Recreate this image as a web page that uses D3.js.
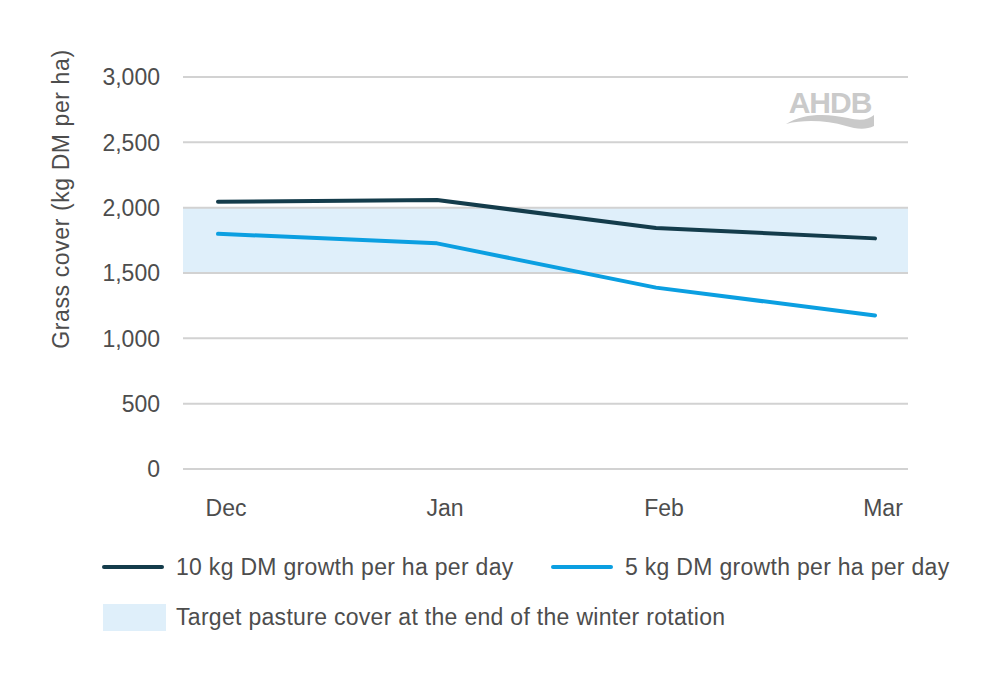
<!DOCTYPE html>
<html>
<head>
<meta charset="utf-8">
<script src="https://cdn.jsdelivr.net/npm/d3@7"></script>
<style>
  body { margin: 0; background: #fff; }
  svg text { font-family: "Liberation Sans", Arial, sans-serif; fill: #4d4d4d; }
</style>
</head>
<body>
<svg width="1000" height="688"></svg>
<script>
const months = ["Dec", "Jan", "Feb", "Mar"];
const growth10 = [2045, 2058, 1845, 1765];
const growth5 = [1800, 1727, 1388, 1175];
const yTicks = [0, 500, 1000, 1500, 2000, 2500, 3000];
const targetBand = [1500, 2000];
const seriesNames = ["10 kg DM growth per ha per day", "5 kg DM growth per ha per day"];
const bandName = "Target pasture cover at the end of the winter rotation";

const colors = ["#143c4b", "#0b9fe1"];
const bandColor = "#dfeffa";

const svg = d3.select("svg");
const left = 183, right = 908;

const x = d3.scalePoint().domain(months).range([218, 875]);
const y = d3.scaleLinear().domain([0, 3000]).range([469, 77]);

// target band
svg.append("rect")
    .attr("x", left)
    .attr("width", right - left)
    .attr("y", y(targetBand[1]))
    .attr("height", y(targetBand[0]) - y(targetBand[1]))
    .attr("fill", bandColor);

// gridlines + tick labels
const grid = svg.append("g");
grid.selectAll("line").data(yTicks).enter().append("line")
    .attr("x1", left).attr("x2", right)
    .attr("y1", d => y(d)).attr("y2", d => y(d))
    .attr("stroke", "#d2d2d2")
    .attr("stroke-width", 2);
grid.selectAll("text").data(yTicks).enter().append("text")
    .attr("x", 160)
    .attr("y", d => y(d))
    .attr("dy", "0.36em")
    .attr("text-anchor", "end")
    .style("font-size", "23px")
    .text(d => d3.format(",")(d));

// month labels
svg.append("g").selectAll("text").data(months).enter().append("text")
    .attr("x", d => x(d) + 8)
    .attr("y", 516)
    .attr("text-anchor", "middle")
    .style("font-size", "23px")
    .text(d => d);

// y title
svg.append("text")
    .attr("transform", "translate(69,199) rotate(-90)")
    .attr("text-anchor", "middle")
    .style("font-size", "23px")
    .style("letter-spacing", "0.6px")
    .text("Grass cover (kg DM per ha)");

// lines
const line = d3.line()
    .x((d, i) => x(months[i]))
    .y(d => y(d));

[growth10, growth5].forEach((s, i) => {
    svg.append("path")
        .datum(s)
        .attr("d", line)
        .attr("fill", "none")
        .attr("stroke", colors[i])
        .attr("stroke-width", 4)
        .attr("stroke-linecap", "round")
        .attr("stroke-linejoin", "round");
});

// legend
const legendPos = [[104, 567], [553, 567]];
seriesNames.forEach((name, i) => {
    const [lx, ly] = legendPos[i];
    svg.append("line")
        .attr("x1", lx).attr("x2", lx + 58)
        .attr("y1", ly).attr("y2", ly)
        .attr("stroke", colors[i])
        .attr("stroke-width", 4)
        .attr("stroke-linecap", "round");
    svg.append("text")
        .attr("x", lx + 72)
        .attr("y", ly)
        .attr("dy", "0.36em")
        .style("font-size", "23px")
        .style("letter-spacing", "0.3px")
        .text(name);
});
svg.append("rect")
    .attr("x", 103).attr("y", 604)
    .attr("width", 63).attr("height", 27)
    .attr("fill", bandColor);
svg.append("text")
    .attr("x", 176)
    .attr("y", 617)
    .attr("dy", "0.36em")
    .style("font-size", "23px")
    .style("letter-spacing", "0.3px")
    .text(bandName);

// AHDB logo
const logo = svg.append("g").attr("fill", "#c9c9c9");
logo.append("text")
    .attr("x", 830)
    .attr("y", 113)
    .attr("text-anchor", "middle")
    .style("font-size", "30px")
    .style("font-weight", "bold")
    .style("fill", "#cacaca")
    .style("letter-spacing", "-1px")
    .text("AHDB");
logo.append("path")
    .attr("d", "M786,124 C805,112 830,114 848,118 C860,121 868,120 874,115 L874,126 C866,130 856,129 846,126 C828,121 806,119 786,124 Z");
</script>
</body>
</html>
